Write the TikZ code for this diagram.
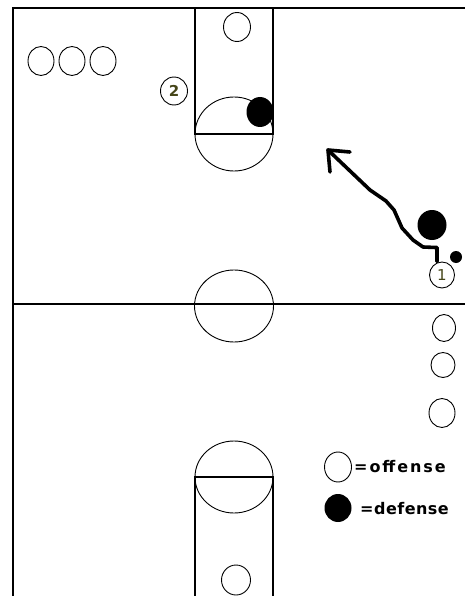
\documentclass[tikz,border=0pt]{standalone}
\usepackage{fontspec}
\setmainfont{DejaVu Sans}
\newfontfamily\legofont[LetterSpace=12]{DejaVu Sans}
\newfontfamily\legdfont[LetterSpace=3]{DejaVu Sans}
\usetikzlibrary{shapes.geometric}
\definecolor{numcol}{RGB}{70,70,25}
\begin{document}
\begin{tikzpicture}[x=1pt,y=-1pt,
  court/.style={line width=1.3pt},
  off/.style={ellipse,draw,line width=0.9pt,inner sep=0pt,minimum width=27pt,minimum height=29pt},
  def/.style={ellipse,fill=black,inner sep=0pt,minimum width=27pt,minimum height=30pt},
  num/.style={font=\fontsize{15}{15}\selectfont,text=numcol,inner sep=0pt},
  legend/.style={anchor=west,inner sep=0pt},
  move/.style={line width=3.6pt,line join=round,line cap=round}]
\useasboundingbox (0,0) rectangle (465,596);
\fill[white] (0,0) rectangle (465,596);
% court outline and midcourt line
\coordinate (tl) at (13,8);
\draw[court] (13,596) -- (tl) -- (465,8);
\draw[court] (13,304) -- (465,304);
% top lane
\draw[court] (195,8) rectangle (273,134);
\draw[line width=2.4pt] (195,8) -- (273,8);
\draw[line width=0.9pt] (234,134) ellipse (39pt and 37pt);
% bottom lane
\draw[court] (195,596) -- (195,477) -- (273,477) -- (273,596);
\draw[line width=0.9pt] (234,477) ellipse (39pt and 36pt);
% center circle
\draw[line width=0.9pt] (234,306) ellipse (39.5pt and 36pt);
% offense players
\node[off] (o1) at (237,27) {};
\node[off,minimum width=26pt] (o2) at (41,61) {};
\node[off,minimum width=26pt] (o3) at (72,61) {};
\node[off,minimum width=26pt] (o4) at (103,61) {};
\node[off,minimum width=27pt,minimum height=28pt] (p2) at (174,91) {};
\node[num,font=\fontsize{15}{15}\selectfont\bfseries] at (p2) {2};
\node[off,minimum width=25pt,minimum height=26pt] (p1) at (442,275) {};
\node[num] at (p1) {1};
\node[off,minimum width=23pt,minimum height=27pt] (o5) at (444,328) {};
\node[off,minimum width=24pt,minimum height=25pt] (o6) at (443,365) {};
\node[off,minimum width=26pt,minimum height=29pt] (o7) at (442,413) {};
\node[off,minimum width=29pt,minimum height=30pt] (o8) at (236,580) {};
% defense players
\node[def] (d1) at (260,112) {};
\node[def,minimum width=29pt] (d2) at (432,225) {};
\node[circle,fill=black,inner sep=0pt,minimum size=12pt] (ball) at (456,257) {};
% movement of player 1
\coordinate (tip) at (328,150);
\draw[move] (p1.north) ++(-5,0) coordinate (start) -- ++(0,-14) -- (423,247) -- (413,240)
  -- (402,228) -- (394,210) -- (386,201) -- (370,190) -- (tip);
\draw[move] (350,152) -- (tip) -- (330,172);
% legend
\node[off,minimum width=27pt,minimum height=30pt] (lo) at (338,467) {};
\node[legend,font=\legofont\fontsize{16}{16}\selectfont\bfseries] (lot) at (354,467) {=offense};
\node[def,minimum width=27pt,minimum height=28pt] (ld) at (338,508) {};
\node[legend,font=\legdfont\fontsize{16}{16}\selectfont\bfseries] (ldt) at (360,509) {=defense};
\end{tikzpicture}
\end{document}
